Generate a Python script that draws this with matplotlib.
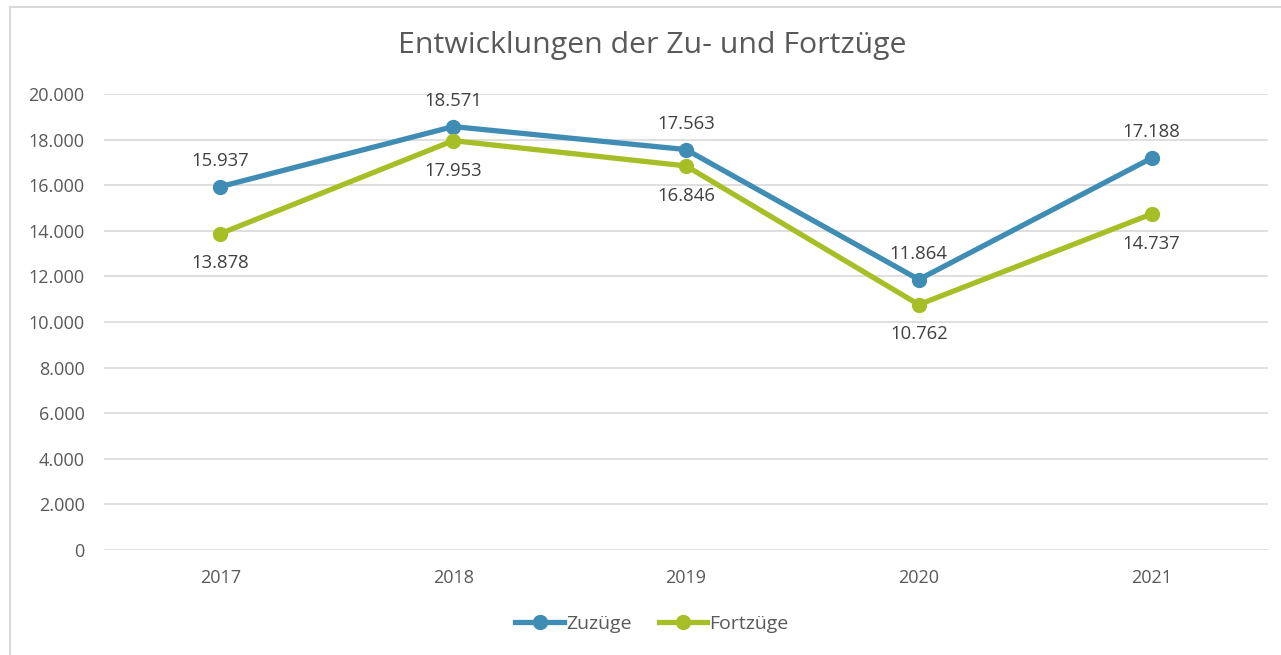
import matplotlib.pyplot as plt
from matplotlib.lines import Line2D

years = ["2017", "2018", "2019", "2020", "2021"]
zuzuege = [15937, 18571, 17563, 11864, 17188]
fortzuege = [13878, 17953, 16846, 10762, 14737]
yticks = [0, 2000, 4000, 6000, 8000, 10000, 12000, 14000, 16000, 18000, 20000]

blue = "#3f8cb5"
green = "#a8be26"
grey = "#595959"

plt.rcParams["font.family"] = ["Open Sans", "DejaVu Sans"]


def fmt(v):
    return "{:,}".format(v).replace(",", ".")


fig = plt.figure(figsize=(12.81, 6.55), dpi=100)
ax = fig.add_axes([104 / 1281, 1 - 550 / 655, (1268 - 104) / 1281, (550 - 94) / 655])

# chart frame (left and top edge)
fig.add_artist(Line2D([10 / 1281, 10 / 1281], [0, 1 - 7 / 655], transform=fig.transFigure, color="#d9d9d9", lw=1.5))
fig.add_artist(Line2D([10 / 1281, 1], [1 - 7 / 655, 1 - 7 / 655], transform=fig.transFigure, color="#d9d9d9", lw=1.5))

x = list(range(len(years)))
ax.plot(x, zuzuege, color=blue, lw=3.8, marker="o", ms=10, label="Zuzüge", zorder=3)
ax.plot(x, fortzuege, color=green, lw=3.8, marker="o", ms=10, label="Fortzüge", zorder=3)

for i in x:
    ax.annotate(fmt(zuzuege[i]), (i, zuzuege[i]), xytext=(0, 12), textcoords="offset points",
                ha="center", va="bottom", fontsize=13.3, color="#404040")
    ax.annotate(fmt(fortzuege[i]), (i, fortzuege[i]), xytext=(0, -15), textcoords="offset points",
                ha="center", va="top", fontsize=13.3, color="#404040")

ax.set_xlim(-0.5, len(years) - 0.5)
ax.set_ylim(0, 20000)
ax.set_yticks(yticks)
ax.set_yticklabels([fmt(v) for v in yticks])
ax.set_xticks(x)
ax.set_xticklabels(years)
ax.tick_params(axis="both", length=0, labelsize=13, labelcolor=grey)
ax.tick_params(axis="y", pad=14)
ax.tick_params(axis="x", pad=14)
ax.grid(axis="y", color="#d9d9d9", lw=1.2)
ax.set_axisbelow(True)
for s in ax.spines.values():
    s.set_visible(False)

fig.text(652 / 1281, 1 - 45 / 655, "Entwicklungen der Zu- und Fortzüge", ha="center", va="center",
         fontsize=21.8, color=grey)

fig.legend(loc="center", bbox_to_anchor=(652 / 1281, 1 - 624 / 655), ncol=2, frameon=False,
           fontsize=14, labelcolor=grey, handlelength=2.5, handletextpad=0.1, columnspacing=1.4)

fig.savefig("out.png", dpi=100)
